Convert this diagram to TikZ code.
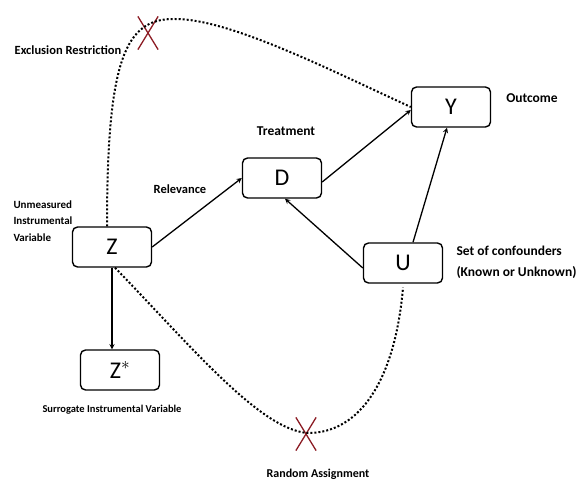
\documentclass[tikz,border=0pt]{standalone}
\usepackage{fontspec}
\setmainfont{Carlito}
\usepackage{tikz}
\usetikzlibrary{arrows,shapes.misc,positioning}
\definecolor{xred}{RGB}{140,28,36}

\begin{document}
\begin{tikzpicture}[x=1pt, y=-1pt,
    block/.style={rectangle, draw, rounded corners=5pt, line width=1.4pt, minimum width=79pt, minimum height=40pt, font=\fontsize{24}{26}\selectfont},
    arrow/.style={->, >=stealth, line width=1.3pt},
    dots/.style={line width=2pt, dash pattern=on 2pt off 2pt},
    lab/.style={font=\bfseries\fontsize{12.5}{14}\selectfont},
    biglab/.style={font=\bfseries\fontsize{13.5}{21}\selectfont},
    cross/.style={cross out, draw=xred, line width=1.3pt, minimum width=19pt, minimum height=32pt, inner sep=0pt}]

    \useasboundingbox (0,0) rectangle (576,481);

    \node[block] (Y) at (451,107) {Y};
    \node[block] (D) at (282,178) {D};
    \node[block] (Z) at (112,247) {Z};
    \node[block] (U) at (403,263) {U};
    \node[block] (Zs) at (120,370) {Z$^{*}$};

    \node[cross] (x1) at (148,33) {};
    \node[cross] (x2) at (306,434) {};

    \node[lab] (excl) at (68,50) {Exclusion Restriction};
    \node[lab, font=\bfseries\fontsize{13.5}{14}\selectfont] (outc) at (532,98) {Outcome};
    \node[lab, font=\bfseries\fontsize{13.5}{14}\selectfont] (treat) at (286,131) {Treatment};
    \node[lab] (relev) at (180,189) {Relevance};
    \node[lab, align=left, anchor=west, font=\bfseries\fontsize{11}{16.5}\selectfont] (instr) at (10,221) {Unmeasured\\Instrumental\\Variable};
    \node[biglab, align=left, anchor=west] (conf) at (453,262) {Set of confounders\\(Known or Unknown)};
    \node[lab, font=\bfseries\fontsize{10.5}{12}\selectfont] (surr) at (112,410) {Surrogate Instrumental Variable};
    \node[lab, font=\bfseries\fontsize{12}{14}\selectfont] (rand) at (318,474) {Random Assignment};

    \draw[arrow] (Z.east) -- (D.west);
    \draw[arrow] ([yshift=-4pt]D.east) -- ([yshift=-3pt]Y.west);
    \draw[arrow] ([yshift=-5pt]U.west) -- ([xshift=3pt]D.south);
    \draw[arrow] ([xshift=10pt]U.north) -- ([xshift=-4pt]Y.south);
    \draw[arrow] (Z.south) -- (Z.south |- Zs.north);

    \draw[dots] ([xshift=-5pt]Z.north) .. controls (107,60) and (125,18) .. (175,19)
        .. controls (230,19) and (330,70) .. (Y.west);
    \draw[dots] ([xshift=3pt]Z.south) .. controls (190,345) and (260,430) .. (308,433)
        .. controls (360,433) and (395,380) .. ([yshift=-4pt]U.south);
\end{tikzpicture}
\end{document}
